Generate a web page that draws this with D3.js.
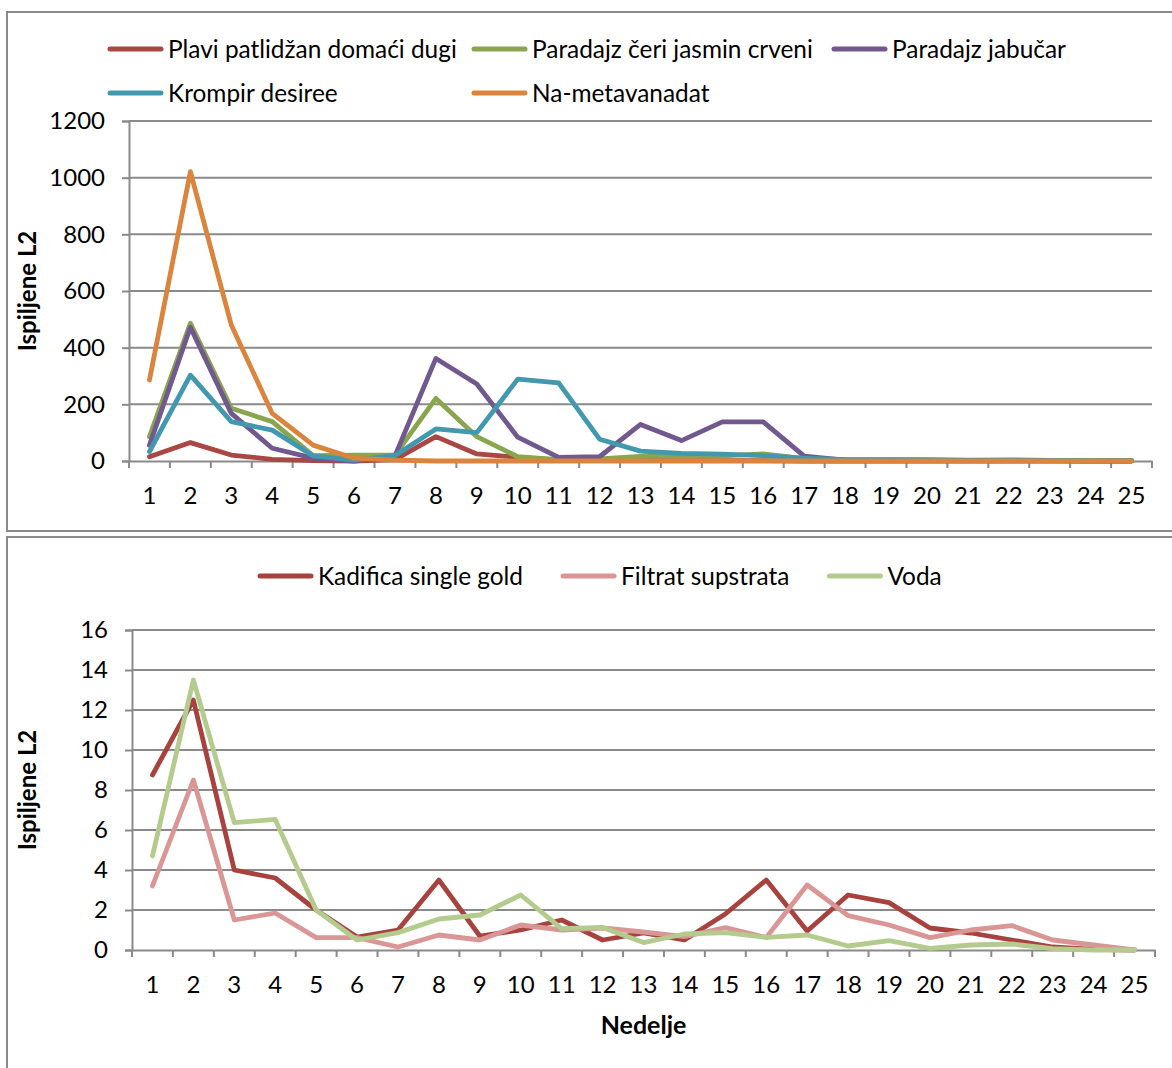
<!DOCTYPE html>
<html>
<head>
<meta charset="utf-8">
<script src="https://cdn.jsdelivr.net/npm/d3@7"></script>
<style>
  body { margin: 0; background: #fff; }
  text { font-family: Lato, "Open Sans", sans-serif; fill: #000; }
</style>
</head>
<body>
<div id="chart"></div>
<script>
const weeks = d3.range(1, 26).map(String);

// top chart
const topNames = ["Plavi patlidžan domaći dugi", "Paradajz čeri jasmin crveni", "Paradajz jabučar", "Krompir desiree", "Na-metavanadat"];
const topColors = ["#AA4643", "#89A54E", "#71588F", "#4198AF", "#DB843D"];
const plavi = [15, 65, 21, 6, 1, 0, 5, 86, 25, 13, 3, 2, 2, 1, 1, 1, 0, 0, 0, 0, 0, 0, 0, 0, 0];
const ceri = [86, 486, 186, 139, 19, 21, 21, 221, 86, 15, 5, 7, 16, 18, 18, 25, 8, 3, 3, 3, 2, 2, 1, 1, 1];
const jabucar = [56, 472, 168, 45, 10, 0, 18, 362, 272, 84, 13, 15, 129, 72, 138, 138, 17, 3, 3, 2, 1, 1, 1, 0, 0];
const krompir = [33, 303, 139, 109, 18, 3, 19, 113, 100, 289, 276, 77, 35, 27, 24, 19, 10, 5, 5, 5, 3, 4, 2, 2, 2];
const metavanadat = [286, 1021, 480, 168, 56, 10, 3, 0, 0, 0, 0, 0, 0, 0, 0, 0, 0, 0, 0, 0, 0, 0, 0, 0, 0];
const topTicks = [0, 200, 400, 600, 800, 1000, 1200];

// bottom chart
const bottomNames = ["Kadifica single gold", "Filtrat supstrata", "Voda"];
const bottomColors = ["#A8423F", "#D99694", "#B3CB8C"];
const kadifica = [8.75, 12.5, 4.0, 3.6, 2.0, 0.65, 1.0, 3.5, 0.7, 1.0, 1.5, 0.5, 0.85, 0.5, 1.8, 3.5, 0.95, 2.75, 2.37, 1.1, 0.85, 0.5, 0.15, 0.03, 0];
const filtrat = [3.2, 8.5, 1.5, 1.85, 0.62, 0.62, 0.15, 0.75, 0.5, 1.25, 1.0, 1.1, 0.9, 0.67, 1.12, 0.63, 3.25, 1.72, 1.25, 0.62, 1.0, 1.22, 0.5, 0.25, 0];
const voda = [4.7, 13.5, 6.37, 6.53, 2.0, 0.5, 0.87, 1.55, 1.75, 2.75, 1.07, 1.13, 0.37, 0.8, 0.87, 0.63, 0.75, 0.2, 0.47, 0.08, 0.25, 0.3, 0.07, 0, 0];
const bottomTicks = [0, 2, 4, 6, 8, 10, 12, 14, 16];

const svg = d3.select("#chart").append("svg")
    .attr("width", 1172)
    .attr("height", 1068);

const gray = "#8a8a8a";

function drawChart(opt) {
    const g = svg.append("g");

    g.append("rect")
        .attr("x", opt.frame[0]).attr("y", opt.frame[1])
        .attr("width", opt.frame[2]).attr("height", opt.frame[3])
        .attr("fill", "#fff")
        .attr("stroke", gray)
        .attr("stroke-width", 2);

    const x = d3.scaleBand().domain(weeks).range([opt.left, opt.right]).paddingInner(0).paddingOuter(0);
    const y = d3.scaleLinear().domain([0, d3.max(opt.ticks)]).range([opt.bottom, opt.top]);

    // gridlines
    g.append("g")
        .selectAll("line")
        .data(opt.ticks.filter(t => t > 0))
        .join("line")
        .attr("x1", opt.left).attr("x2", opt.right)
        .attr("y1", d => y(d)).attr("y2", d => y(d))
        .attr("stroke", gray)
        .attr("stroke-width", 2);

    // y axis
    const yAxis = g.append("g")
        .attr("transform", `translate(${opt.left},0)`)
        .call(d3.axisLeft(y).tickValues(opt.ticks).tickFormat(d3.format("d")).tickSize(7).tickPadding(17));
    yAxis.select(".domain").attr("stroke", gray).attr("stroke-width", 2);
    yAxis.selectAll(".tick line").attr("stroke", gray).attr("stroke-width", 2);
    yAxis.selectAll("text").style("font-size", "24px").attr("font-family", null);

    // x axis
    const xAxis = g.append("g")
        .attr("transform", `translate(0,${opt.bottom})`)
        .call(d3.axisBottom(x).tickSize(0).tickPadding(26));
    xAxis.select(".domain").attr("stroke", gray).attr("stroke-width", 2);
    xAxis.selectAll("text").style("font-size", "24px").attr("font-family", null);

    g.append("g")
        .selectAll("line")
        .data(weeks.concat(["end"]))
        .join("line")
        .attr("x1", d => d === "end" ? opt.right : x(d))
        .attr("x2", d => d === "end" ? opt.right : x(d))
        .attr("y1", opt.bottom)
        .attr("y2", opt.bottom + 7)
        .attr("stroke", gray)
        .attr("stroke-width", 2);

    // y title
    g.append("text")
        .attr("transform", `translate(${opt.titleX},${(opt.top + opt.bottom) / 2}) rotate(-90)`)
        .attr("text-anchor", "middle")
        .style("font-size", "24px")
        .style("font-weight", "bold")
        .text("Ispiljene L2");

    // lines
    const line = d3.line()
        .x((d, i) => x(weeks[i]) + x.bandwidth() / 2)
        .y(d => y(d));

    g.append("g")
        .selectAll("path")
        .data(opt.series)
        .join("path")
        .attr("d", d => line(d))
        .attr("fill", "none")
        .attr("stroke", (d, i) => opt.colors[i])
        .attr("stroke-width", 4.8)
        .attr("stroke-linejoin", "round")
        .attr("stroke-linecap", "round");

    // legend
    const leg = g.append("g");
    let nextX = opt.legendStart;
    opt.names.forEach((name, i) => {
        const p = opt.legendPos ? opt.legendPos(i) : [nextX, opt.legendY];
        leg.append("line")
            .attr("x1", p[0] + 2).attr("x2", p[0] + 53)
            .attr("y1", p[1]).attr("y2", p[1])
            .attr("stroke", opt.colors[i])
            .attr("stroke-width", 5)
            .attr("stroke-linecap", "round");
        const t = leg.append("text")
            .attr("x", p[0] + 60).attr("y", p[1])
            .attr("dy", "0.35em")
            .style("font-size", "24.4px")
            .text(name);
        nextX = p[0] + 60 + t.node().getComputedTextLength() + 38;
    });
    return g;
}

const topCols = [108, 472, 832];
drawChart({
    frame: [7, 12, 1180, 519],
    left: 129, right: 1152, top: 121, bottom: 461,
    ticks: topTicks,
    series: [plavi, ceri, jabucar, krompir, metavanadat],
    colors: topColors,
    names: topNames,
    titleX: 36,
    legendPos: i => [topCols[i % 3], i < 3 ? 49 : 93]
});

drawChart({
    frame: [7, 537, 1180, 540],
    left: 132, right: 1155, top: 630, bottom: 950,
    ticks: bottomTicks,
    series: [kadifica, filtrat, voda],
    colors: bottomColors,
    names: bottomNames,
    titleX: 36,
    legendStart: 258,
    legendY: 576
});

svg.append("text")
    .attr("x", (132 + 1155) / 2)
    .attr("y", 1025)
    .attr("dy", "0.35em")
    .attr("text-anchor", "middle")
    .style("font-size", "25px")
    .style("font-weight", "bold")
    .text("Nedelje");
</script>
</body>
</html>
